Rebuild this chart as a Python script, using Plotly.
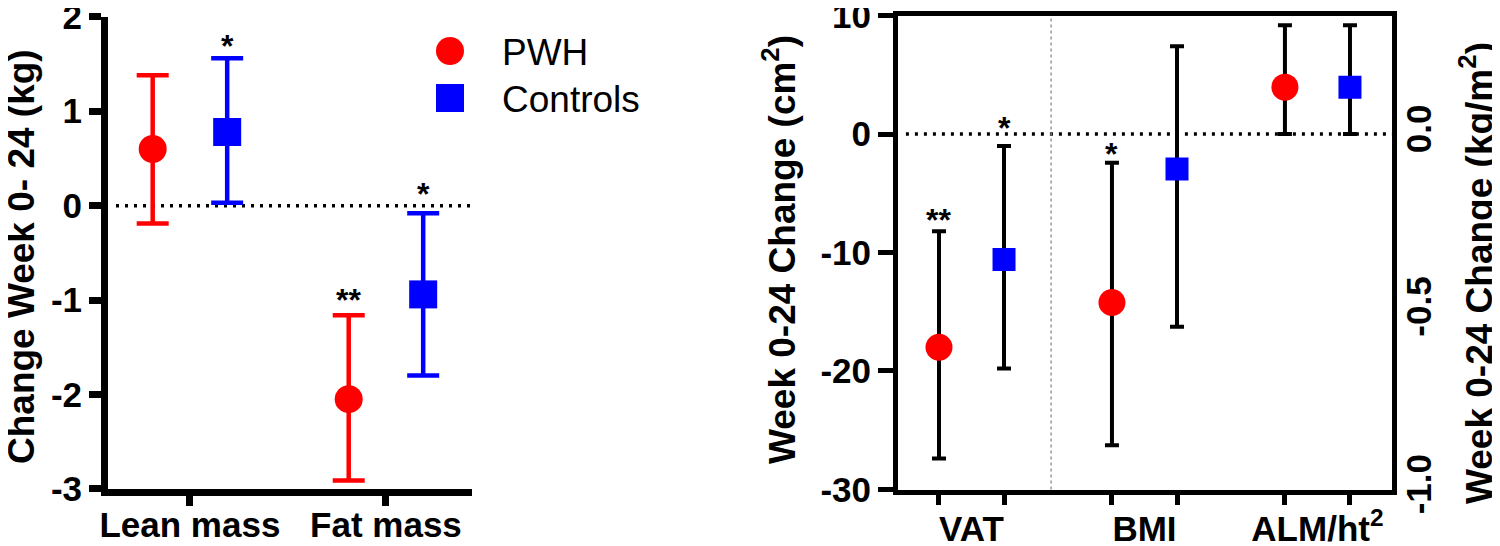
import plotly.graph_objects as go

# ---------------- data ----------------
# Left panel: change week 0-24 (kg)
mass_categories = ["Lean mass", "Fat mass"]
pwh_mass_mean = [0.60, -2.05]
pwh_mass_upper = [1.38, -1.16]
pwh_mass_lower = [-0.19, -2.91]
ctrl_mass_mean = [0.78, -0.94]
ctrl_mass_upper = [1.56, -0.08]
ctrl_mass_lower = [0.03, -1.80]
pwh_mass_sig = ["", "**"]
ctrl_mass_sig = ["*", "*"]
pwh_mass_sig_y = [None, -0.96]
ctrl_mass_sig_y = [1.73, 0.17]

# Right panel: VAT in cm^2 (left axis), BMI & ALM/ht^2 in kg/m^2 (right axis)
right_categories = ["VAT", "BMI", "ALM/ht<sup>2</sup>"]
vat_pwh_mean = [-18.0]
vat_pwh_upper = [-8.2]
vat_pwh_lower = [-27.4]
vat_ctrl_mean = [-10.6]
vat_ctrl_upper = [-1.0]
vat_ctrl_lower = [-19.8]
vat_pwh_sig = ["**"]
vat_ctrl_sig = ["*"]
vat_pwh_sig_y = [-6.9]
vat_ctrl_sig_y = [0.87]

kgm2_pwh_mean = [-0.474, 0.132]
kgm2_pwh_upper = [-0.081, 0.306]
kgm2_pwh_lower = [-0.876, 0.0]
kgm2_ctrl_mean = [-0.098, 0.132]
kgm2_ctrl_upper = [0.247, 0.306]
kgm2_ctrl_lower = [-0.542, 0.0]
kgm2_pwh_sig = ["*", ""]
kgm2_pwh_sig_y = [-0.044, None]

left_yticks = [2, 1, 0, -1, -2, -3]
left_yticklabels = ["2", "1", "0", "-1", "-2", "-3"]
right_left_yticks = [10, 0, -10, -20, -30]
right_left_yticklabels = ["10", "0", "-10", "-20", "-30"]
right_right_yticks = [0.0, -0.5, -1.0]
right_right_yticklabels = ["0.0", "-0.5", "-1.0"]

# ---------------- style ----------------
RED = "#FF0000"
BLUE = "#0000FF"
FONT = "Liberation Sans, Arial, sans-serif"
PAGE_OFF = 8               # default body margin of the html page
W, H = 1500 - PAGE_OFF, 546 - PAGE_OFF
OFF = 0.19
ROFF = 0.188


def px_x(p):
    """page pixel -> paper fraction"""
    return (p - PAGE_OFF) / W


def px_y(p):
    return (H - (p - PAGE_OFF)) / H


def err(mean, upper, lower):
    return dict(type="data", symmetric=False,
                array=[u - m for u, m in zip(upper, mean)],
                arrayminus=[m - l for m, l in zip(mean, lower)])


fig = go.Figure()

# ---- left panel ----
x_pwh = [i - OFF for i in range(len(mass_categories))]
x_ctrl = [i + OFF for i in range(len(mass_categories))]
fig.add_trace(go.Scatter(
    x=x_pwh, y=pwh_mass_mean, mode="markers", name="PWH",
    marker=dict(symbol="circle", size=28, color=RED),
    error_y=dict(**err(pwh_mass_mean, pwh_mass_upper, pwh_mass_lower),
                 color=RED, thickness=4.5, width=16),
    xaxis="x", yaxis="y", showlegend=False))
fig.add_trace(go.Scatter(
    x=x_ctrl, y=ctrl_mass_mean, mode="markers", name="Controls",
    marker=dict(symbol="square", size=28, color=BLUE),
    error_y=dict(**err(ctrl_mass_mean, ctrl_mass_upper, ctrl_mass_lower),
                 color=BLUE, thickness=4.5, width=16),
    xaxis="x", yaxis="y", showlegend=False))

# ---- right panel ----
fig.add_trace(go.Scatter(
    x=[0 - ROFF], y=vat_pwh_mean, mode="markers", name="PWH",
    marker=dict(symbol="circle", size=27, color=RED),
    error_y=dict(**err(vat_pwh_mean, vat_pwh_upper, vat_pwh_lower),
                 color="black", thickness=4, width=7),
    xaxis="x2", yaxis="y2", showlegend=False))
fig.add_trace(go.Scatter(
    x=[0 + ROFF], y=vat_ctrl_mean, mode="markers", name="Controls",
    marker=dict(symbol="square", size=23, color=BLUE),
    error_y=dict(**err(vat_ctrl_mean, vat_ctrl_upper, vat_ctrl_lower),
                 color="black", thickness=4, width=7),
    xaxis="x2", yaxis="y2", showlegend=False))
fig.add_trace(go.Scatter(
    x=[i - ROFF for i in (1, 2)], y=kgm2_pwh_mean, mode="markers", name="PWH",
    marker=dict(symbol="circle", size=27, color=RED),
    error_y=dict(**err(kgm2_pwh_mean, kgm2_pwh_upper, kgm2_pwh_lower),
                 color="black", thickness=4, width=7),
    xaxis="x2", yaxis="y3", showlegend=False))
fig.add_trace(go.Scatter(
    x=[i + ROFF for i in (1, 2)], y=kgm2_ctrl_mean, mode="markers", name="Controls",
    marker=dict(symbol="square", size=23, color=BLUE),
    error_y=dict(**err(kgm2_ctrl_mean, kgm2_ctrl_upper, kgm2_ctrl_lower),
                 color="black", thickness=4, width=7),
    xaxis="x2", yaxis="y3", showlegend=False))

tickfont = dict(family=FONT, size=35, color="black", weight="bold")

left_xdom = [px_x(108), px_x(472)]
left_ydom = [px_y(489), px_y(16.7)]
right_xdom = [px_x(898), px_x(1392)]
right_ydom = [px_y(489.5), px_y(15.5)]

point_positions = sorted([i - ROFF for i in range(3)] + [i + ROFF for i in range(3)])

common = dict(showgrid=False, zeroline=False, automargin=False,
              ticklabeloverflow="allow", tickcolor="black", linecolor="black")

fig.update_layout(
    width=W, height=H,
    margin=dict(l=0, r=0, t=0, b=0, autoexpand=False),
    paper_bgcolor="white", plot_bgcolor="white",
    showlegend=False,
    xaxis=dict(domain=left_xdom, range=[-0.418, 1.439], anchor="y",
               tickvals=list(range(len(mass_categories))), ticktext=mass_categories,
               ticks="outside", ticklen=10, tickwidth=7, ticklabelstandoff=-11,
               showline=True, linewidth=7, tickfont=tickfont, **common),
    yaxis=dict(domain=left_ydom, range=[-3.001, 2.001], anchor="x",
               tickvals=left_yticks, ticktext=left_yticklabels,
               ticks="outside", ticklen=12, tickwidth=7,
               showline=True, linewidth=7, tickfont=tickfont, **common),
    xaxis2=dict(domain=right_xdom, range=[-0.425, 2.431], anchor="y2",
                tickvals=list(range(len(right_categories))), ticktext=right_categories,
                ticks="", tickfont=tickfont, ticklabelstandoff=4,
                minor=dict(tickvals=point_positions, ticks="outside", ticklen=10,
                           tickwidth=4.5, tickcolor="black", showgrid=False),
                showline=True, linewidth=5, mirror=True, **common),
    yaxis2=dict(domain=right_ydom, range=[-30.01, 10.01], anchor="x2",
                tickvals=right_left_yticks, ticktext=right_left_yticklabels,
                ticks="outside", ticklen=15, tickwidth=5,
                showline=True, linewidth=5, mirror=True, tickfont=tickfont, **common),
    yaxis3=dict(overlaying="y2", side="right", anchor="x2",
                range=[-1.0 - 0.01 / 30, 1 / 3 + 0.01 / 30],
                tickvals=right_right_yticks, ticktext=right_right_yticklabels,
                tickangle=-90, ticks="", showline=True, linewidth=5,
                ticklabelstandoff=-8, tickfont=tickfont, **common),
)

# reference lines
fig.add_shape(type="line", xref="x domain", yref="y", x0=0.022, x1=1, y0=0, y1=0,
              line=dict(color="black", width=3.5, dash="3px,6px"), layer="below")
fig.add_shape(type="line", xref="x2 domain", yref="y2", x0=0.016, x1=1, y0=0, y1=0,
              line=dict(color="black", width=3.5, dash="3px,6px"), layer="below")
fig.add_shape(type="line", xref="x2", yref="y2 domain", x0=0.46, x1=0.46, y0=0, y1=1,
              line=dict(color="#8a8a8a", width=1.3, dash="dot"), layer="below")

# legend (drawn manually so the symbols keep their full size)
fig.add_shape(type="circle", xref="paper", yref="paper",
              x0=px_x(436), x1=px_x(464), y0=px_y(65), y1=px_y(37),
              fillcolor=RED, line=dict(width=0))
fig.add_shape(type="rect", xref="paper", yref="paper",
              x0=px_x(436), x1=px_x(464), y0=px_y(112), y1=px_y(84),
              fillcolor=BLUE, line=dict(width=0))
legfont = dict(family=FONT, size=37, color="black")
fig.add_annotation(text="PWH", xref="paper", yref="paper", x=px_x(500), y=px_y(52),
                   xanchor="left", yanchor="middle", showarrow=False, font=legfont)
fig.add_annotation(text="Controls", xref="paper", yref="paper", x=px_x(500), y=px_y(99),
                   xanchor="left", yanchor="middle", showarrow=False, font=legfont)

# axis titles
titlefont = dict(family=FONT, size=37, color="black", weight="bold")
fig.add_annotation(text="Change Week 0- 24 (kg)", xref="paper", yref="paper",
                   x=px_x(21), y=px_y(257), textangle=-90, showarrow=False,
                   xanchor="center", yanchor="middle", font=titlefont)
fig.add_annotation(text="Week 0-24 Change (cm<sup>2</sup>)", xref="paper", yref="paper",
                   x=px_x(779), y=px_y(249), textangle=-90, showarrow=False,
                   xanchor="center", yanchor="middle", font=titlefont)
fig.add_annotation(text="Week 0-24 Change (kg/m<sup>2</sup>)", xref="paper", yref="paper",
                   x=px_x(1476), y=px_y(273), textangle=-90, showarrow=False,
                   xanchor="center", yanchor="middle", font=titlefont)

# significance stars
starfont = dict(family=FONT, size=32, color="black", weight="bold")


def add_stars(xs, sigs, ys, xref, yref):
    for x, s, y in zip(xs, sigs, ys):
        if s:
            fig.add_annotation(text=s, x=x, y=y, xref=xref, yref=yref, showarrow=False,
                               yshift=-4, font=starfont)


add_stars(x_pwh, pwh_mass_sig, pwh_mass_sig_y, "x", "y")
add_stars(x_ctrl, ctrl_mass_sig, ctrl_mass_sig_y, "x", "y")
add_stars([0 - ROFF], vat_pwh_sig, vat_pwh_sig_y, "x2", "y2")
add_stars([0 + ROFF], vat_ctrl_sig, vat_ctrl_sig_y, "x2", "y2")
add_stars([i - ROFF for i in (1, 2)], kgm2_pwh_sig, kgm2_pwh_sig_y, "x2", "y3")

fig.write_html("out.html")
